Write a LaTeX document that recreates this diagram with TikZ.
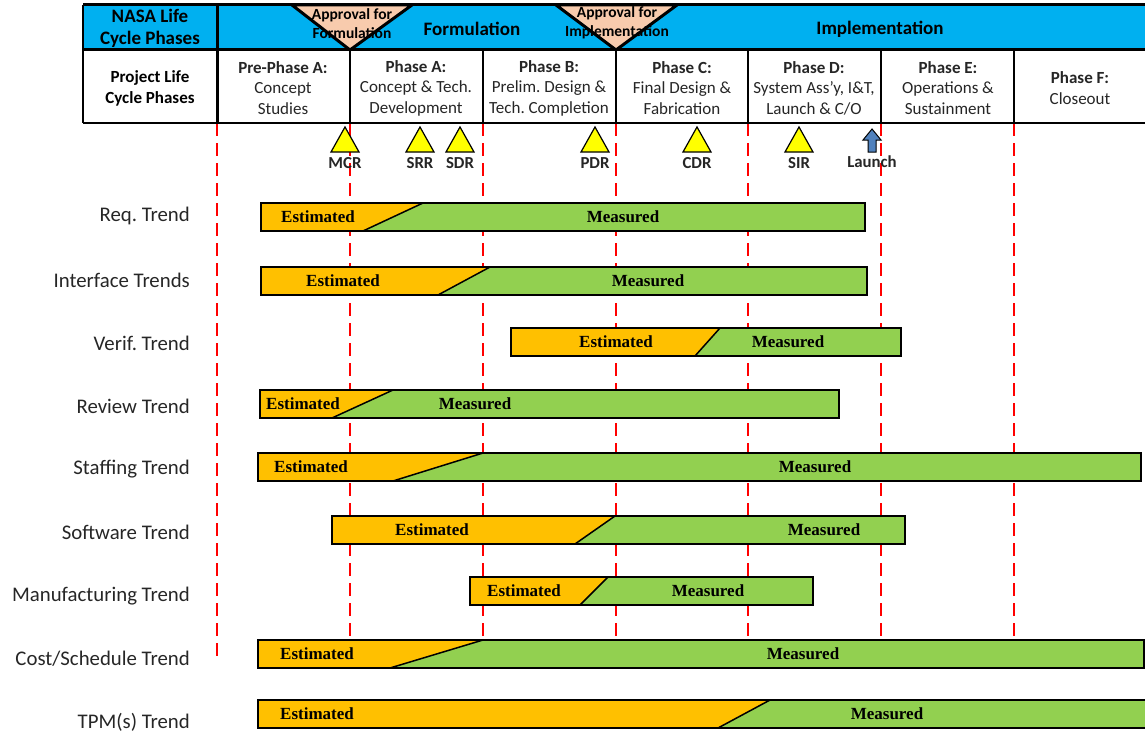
\documentclass[tikz,border=0pt]{standalone}
\usepackage{fontspec}
\setmainfont{Carlito}
\newfontfamily\barfont{Liberation Serif}
\frenchspacing
\definecolor{hdrblue}{HTML}{00B0F0}
\definecolor{estorange}{HTML}{FFC000}
\definecolor{measgreen}{HTML}{92D050}
\definecolor{apptan}{HTML}{F8CBAD}
\definecolor{msyellow}{HTML}{FFFF00}
\definecolor{launchblue}{HTML}{4F81BD}
\definecolor{dashred}{HTML}{FF0000}
\definecolor{lbltext}{HTML}{262626}
\tikzset{
  rowlbl/.style={anchor=east, inner sep=0pt, text=lbltext, font=\fontsize{20.8}{24}\selectfont},
  toptxt/.style={inner sep=0pt, align=center, font=\bfseries\fontsize{19}{22}\selectfont},
  phasetxt/.style={inner sep=0pt, align=center, text=black!85, font=\fontsize{17}{20.5}\selectfont},
  apptxt/.style={inner sep=0pt, align=center, font=\bfseries\fontsize{15.5}{18.5}\selectfont},
  mstxt/.style={inner sep=0pt, text=black!85, font=\bfseries\fontsize{16.8}{18}\selectfont},
  bartxt/.style={inner sep=0pt, font=\barfont\bfseries\fontsize{17}{19}\selectfont},
  barline/.style={draw=black, line width=1.5pt, line join=miter},
  phaseline/.style={dashred, line width=2pt, dash pattern=on 13pt off 7pt},
  mstri/.style={fill=msyellow, draw=black, line width=1.2pt, line join=miter},
  apptri/.style={fill=apptan, draw=black, line width=3pt, line join=miter}
}
\newcommand{\trendbar}[9]{%
  \fill[estorange] (#4,#2) rectangle (#5,#3);
  \fill[measgreen] (#6,#2) -- (#5,#2) -- (#5,#3) -- (#7,#3) -- cycle;
  \draw[barline] (#4,#2) rectangle (#5,#3);
  \draw[barline] (#6,#2) -- (#7,#3);
  \node[bartxt] (#1est) at (#8,{(#2+#3)/2}) {Estimated};
  \node[bartxt] (#1meas) at (#9,{(#2+#3)/2}) {Measured};
}
\newcommand{\milestone}[3]{%
  \draw[mstri] ({#2-14},152) -- (#2,127) -- ({#2+14},152) -- cycle;
  \node[mstxt] (#1) at (#2,163) {#3};
}
\begin{document}
\begin{tikzpicture}[x=1pt,y=-1pt]
\useasboundingbox (0,0) rectangle (1145,733);
\clip (0,0) rectangle (1145,733);

% phase dashed lines
\foreach \px in {217,350,483,616,748,881,1014}
  \draw[phaseline] (\px,123) -- (\px,663);

% header
\fill[hdrblue] (83,5) rectangle (1150,50);
\fill[white] (83,50) rectangle (1150,123);
\draw[line width=1.5pt] (83,123) -- (1150,123);
\foreach \px in {350,483,616,748,881,1014}
  \draw[line width=1.5pt] (\px,50) -- (\px,123);
\draw[line width=3pt] (83,5) -- (1150,5);
\draw[line width=3pt] (83,50) -- (1150,50);
\draw[line width=2pt] (83,5) -- (83,123);
\draw[line width=3pt] (217,5) -- (217,123);

% approval triangles
\draw[apptri] (292,5) -- (412,5) -- (350,50) -- cycle;
\draw[apptri] (556,5) -- (677,5) -- (616,50) -- cycle;

\node[toptxt] (nasa) at (150,28.5) {NASA Life\\Cycle Phases};
\node[toptxt] (form) at (472,29) {Formulation};
\node[toptxt] (impl) at (880,29) {Implementation};
\node[apptxt] (appf) at (352,23.5) {Approval for\\Formulation};
\node[apptxt] (appi) at (617,23) {Approval for\\Implementation};

\node[phasetxt, text=black, font=\bfseries\fontsize{17}{21}\selectfont] (plc) at (150,88) {Project Life\\Cycle Phases};
\node[phasetxt] (pa0) at (283,88) {\textbf{Pre-Phase A:}\\Concept\\Studies};
\node[phasetxt] (pa) at (416,88) {\textbf{Phase A:}\\Concept \& Tech.\\Development};
\node[phasetxt] (pb) at (549,88) {\textbf{Phase B:}\\Prelim. Design \&\\Tech. Completion};
\node[phasetxt] (pc) at (682,88) {\textbf{Phase C:}\\Final Design \&\\Fabrication};
\node[phasetxt] (pd) at (814,88) {\textbf{Phase D:}\\System Ass’y, I\&T,\\Launch \& C/O};
\node[phasetxt] (pe) at (948,88) {\textbf{Phase E:}\\Operations \&\\Sustainment};
\node[phasetxt] (pf) at (1080,88) {\textbf{Phase F:}\\Closeout};

% milestones
\milestone{mcr}{345}{MCR}
\milestone{srr}{420}{SRR}
\milestone{sdr}{460}{SDR}
\milestone{pdr}{595}{PDR}
\milestone{cdr}{697}{CDR}
\milestone{sir}{799}{SIR}
\draw[fill=launchblue, draw=black, line width=1pt, line join=miter]
  (868,152) -- (868,140) -- (863,140) -- (872,129) -- (881,140) -- (876,140) -- (876,152) -- cycle;
\node[mstxt] (launch) at (872,162) {Launch};

% trend bars
\trendbar{req}{203}{231}{261}{865}{423}{363}{318}{623}
\trendbar{intf}{267}{295}{261}{867}{490}{438}{343}{648}
\trendbar{verif}{328}{356}{511}{901}{720}{695}{616}{788}
\trendbar{review}{390}{418}{260}{839}{393}{332}{303}{475}
\trendbar{staff}{453}{481}{258}{1141}{483}{393}{311}{815}
\trendbar{soft}{516}{544}{332}{905}{615}{575}{432}{824}
\trendbar{manu}{577}{605}{470}{813}{608}{580}{524}{708}
\trendbar{cost}{640}{668}{258}{1144}{483}{390}{317}{803}
\trendbar{tpm}{700}{728}{258}{1150}{770}{718}{317}{887}

% row labels
\node[rowlbl] (lreq) at (190,216) {Req. Trend};
\node[rowlbl] (lintf) at (190,280) {Interface Trends};
\node[rowlbl] (lverif) at (190,343) {Verif. Trend};
\node[rowlbl] (lreview) at (190,406) {Review Trend};
\node[rowlbl] (lstaff) at (190,469) {Staffing Trend};
\node[rowlbl] (lsoft) at (190,532) {Software Trend};
\node[rowlbl] (lmanu) at (190,596) {Manufacturing Trend};
\node[rowlbl] (lcost) at (190,659) {Cost/Schedule Trend};
\node[rowlbl] (ltpm) at (190,722) {TPM(s) Trend};
\end{tikzpicture}
\end{document}
